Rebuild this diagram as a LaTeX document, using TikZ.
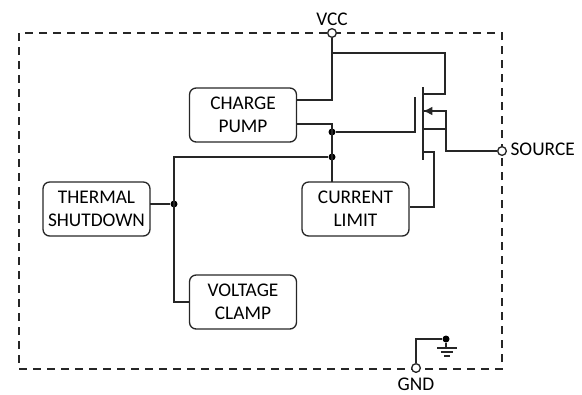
\documentclass[tikz,border=0pt]{standalone}
\usepackage{fontspec}
\setmainfont{Carlito}
\usetikzlibrary{arrows.meta, positioning}
\tikzset{%
    block/.style = {draw=black!85, rectangle, rounded corners=5pt, line width=1pt, outer sep=0pt,
        minimum width=80.25pt, minimum height=40.5pt, align=center,
        font=\fontsize{14.5}{17}\selectfont},
    pin/.style = {draw=black!85, circle, fill=white, line width=1pt, inner sep=0pt, minimum size=6.5pt},
    dot/.style = {circle, fill=black, inner sep=0pt, minimum size=5.25pt},
    pinlabel/.style = {font=\fontsize{14.5}{15}\selectfont, inner sep=0pt},
    wire/.style = {draw=black!85, line width=1pt}
}

\begin{document}
\begin{tikzpicture}[x=0.75pt, y=-0.75pt]
    \useasboundingbox (0,0) rectangle (582,394);
    % package outline
    \draw [black!85, line width=1pt, dash pattern=on 6pt off 4.5pt] (19,33) rectangle (502,369);

    \node [block] (pump) at (243,115) {CHARGE \\ PUMP};
    \node [block, below=99.75pt of pump] (clamp) {VOLTAGE \\ CLAMP};
    \node [block] (thermal) at (96.5,209) {THERMAL \\ SHUTDOWN};
    \node [block, right=114pt of thermal] (limit) {CURRENT \\ LIMIT};

    \node [pin] (vcc) at (332,33) {};
    \node [pin] (source) at (502,151) {};
    \node [pin] (gnd) at (416,368) {};
    \node [pinlabel, above=1.5pt of vcc] (vcclabel) {VCC};
    \node [pinlabel, right=2.5pt of source, yshift=1pt] (sourcelabel) {SOURCE};
    \node [pinlabel, below=3.5pt of gnd] (gndlabel) {GND};

    \node [dot] (gatedot) at (332,132) {};
    \node [dot] (busdot) at (332,157) {};
    \node [dot] (thermaldot) at (174,204) {};
    \node [dot] (gnddot) at (446,339) {};

    % mosfet points
    \coordinate (drainin) at (423,94);
    \coordinate (bodyin) at (423,111);
    \coordinate (srcin) at (423,129);
    \coordinate (sensein) at (423,152);
    \coordinate (platetop) at (415,97);
    \coordinate (platebot) at (415,132);
    \coordinate (pumptop) at (297,100);
    \coordinate (pumpbot) at (297,124);
    \coordinate (limitout) at (410,207);
    \coordinate (gndtop) at (416,339);
    \coordinate (gndbar) at (446,348);

    \draw [wire] (vcc) -- (vcc |- pumptop) -- (pumptop);
    \draw [wire] (332,53) -- (445,53) -- (445,94) -- (drainin);
    \draw [wire] (pumpbot) -- (332,124) -- (gatedot);
    \draw [wire] (332,124) -- (limit.north -| gatedot);
    \draw [wire] (gatedot) -- (platebot) -- (platetop);
    \draw [wire] (busdot) -- (174,157) -- (174,302) -- (clamp.west);
    \draw [wire] (thermal.east |- thermaldot) -- (thermaldot);
    \draw [wire] (423,87) -- (423,160);
    \draw [wire] (source) -- (446,151) -- (446,111) -- (bodyin);
    \draw [-{Latex[length=7pt,width=6.5pt]}, wire] (434,111) -- (bodyin);
    \draw [wire] (srcin) -- (446,129);
    \draw [wire] (sensein) -- (434,152) -- (434,207) -- (limitout);
    \draw [wire] (gnd) -- (gndtop) -- (gnddot);
    \draw [wire] (gnddot) -- (gndbar);
    \draw [wire] (437,348) -- (457,348);
    \draw [wire] (441,352) -- (453,352);
    \draw [wire] (444,356) -- (450,356);
\end{tikzpicture}
\end{document}
